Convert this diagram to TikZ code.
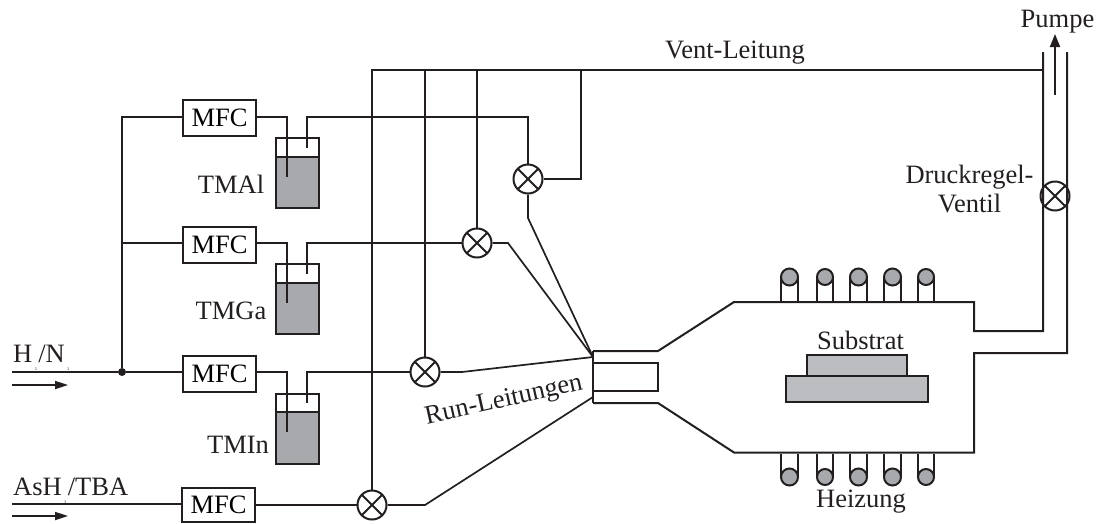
\documentclass[tikz,border=0pt]{standalone}
\usepackage{fontspec}
\setmainfont{Liberation Serif}
\usetikzlibrary{arrows.meta}
\definecolor{liquid}{HTML}{A7A9AC}
\definecolor{subst}{HTML}{BBBDC0}
\definecolor{ink}{HTML}{231F20}
\newcommand{\tinytwo}[1]{\kern2.5pt\raisebox{-8pt}{\fontsize{4}{4}\selectfont #1}\kern1.5pt}
\tikzset{
  pipe/.style={draw=ink,line width=2pt,line join=miter},
  thinpipe/.style={draw=ink,line width=1.7pt},
  flowarrow/.style={draw=ink,line width=1.7pt,-{Triangle[length=13pt,width=8pt]}},
  pumparrow/.style={draw=ink,line width=2pt,-{Triangle[length=13pt,width=10pt]}},
  mfc/.style={draw=ink,line width=2pt,fill=white,minimum width=73pt,minimum height=36pt,inner sep=0pt,font=\fontsize{26.5}{26.5}\selectfont},
  label/.style={text=ink,inner sep=0pt,font=\fontsize{26.5}{26.5}\selectfont,align=center},
  valve/.style={circle,draw=ink,line width=2pt,fill=white,minimum size=29pt,inner sep=0pt,
    path picture={\draw[ink,line width=2pt]
      (path picture bounding box.north west)--(path picture bounding box.south east)
      (path picture bounding box.north east)--(path picture bounding box.south west);}},
  bottle/.style={draw=ink,line width=2pt,minimum width=43pt,minimum height=70pt,inner sep=0pt},
  liquidbox/.style={fill=liquid,minimum width=43pt,minimum height=51pt,inner sep=0pt},
  plate/.style={draw=ink,line width=1.7pt,fill=subst,inner sep=0pt},
  coil/.style={circle,draw=ink,line width=2pt,fill=liquid,inner sep=0pt},
  dot/.style={circle,fill=ink,minimum size=8pt,inner sep=0pt}
}
\begin{document}
\begin{tikzpicture}[x=1pt,y=-1pt]
\useasboundingbox (0,0) rectangle (1098,523);

% gas inlets
\coordinate (h0) at (12,372);
\coordinate (as0) at (12,504);
\node[dot] (j) at (122,372) {};
\node[mfc] (m1) at (219.5,118) {MFC};
\node[mfc] (m2) at (219.5,245) {MFC};
\node[mfc] (m3) at (219.5,374) {MFC};
\node[mfc,minimum height=34pt] (m4) at (218.5,505) {MFC};

% bottles
\node[liquidbox] (l1) at (297.5,182.5) {};
\draw[pipe] (l1.north west) -- (l1.north east);
\node[bottle] (b1) at (297.5,173) {};
\node[liquidbox] (l2) at (297.5,308.5) {};
\draw[pipe] (l2.north west) -- (l2.north east);
\node[bottle] (b2) at (297.5,299) {};
\node[liquidbox] (l3) at (297.5,438) {};
\draw[pipe] (l3.north west) -- (l3.north east);
\node[bottle] (b3) at (297.5,428.5) {};

% valves
\node[valve] (v1) at (528,179) {};
\node[valve] (v2) at (477,243) {};
\node[valve] (v3) at (425,372) {};
\node[valve] (v4) at (372,505) {};
\node[valve] (vd) at (1055,196) {};

% reactor points
\coordinate (rt) at (593,351);
\coordinate (rb) at (593,403);
\coordinate (rm) at (593,357);
\coordinate (rl) at (593,397);
\coordinate (nt) at (658,351);
\coordinate (nb) at (658,403);
\coordinate (ct) at (734,302);
\coordinate (cb) at (734,452.5);
\coordinate (et) at (974,302);
\coordinate (eb) at (974,452.5);
\coordinate (ot) at (974,331);
\coordinate (ob) at (974,353);
\coordinate (tl) at (1043,331);
\coordinate (tr) at (1067,353);
\coordinate (tlt) at (1043,52);
\coordinate (trt) at (1067,52);

% main lines
\draw[pipe] (h0) -- (j) -- (183,372);
\draw[pipe] (as0) -- (182,504);
\draw[pipe] (j) -- (122,117) -- (183,117);
\draw[pipe] (122,243) -- (183,243);

% bottle connections
\draw[pipe] (256,117) -- (287,117) -- (287,177);
\draw[pipe] (256,243) -- (287,243) -- (287,303);
\draw[pipe] (256,372) -- (287,372) -- (287,432);
\draw[pipe] (307,148) -- (307,117) -- (528,117) -- (v1.north);
\draw[pipe] (307,274) -- (307,243) -- (v2.west);
\draw[pipe] (307,403) -- (307,372) -- (v3.west);
\draw[pipe] (m4.east) -- (v4.west);

% vent
\coordinate (vent) at (372,70);
\coordinate (ventr) at (1043,70);
\draw[pipe] (v4.north) -- (vent) -- (ventr);
\draw[pipe] (v3.north) -- (425,70);
\draw[pipe] (v2.north) -- (477,70);
\draw[pipe] (v1.east) -- (581,179) -- (581,70);

% run lines
\draw[thinpipe] (v1.south) -- (528,218) -- (rm);
\draw[thinpipe] (v2.east) -- (508,243) -- (rm);
\draw[thinpipe] (v3.east) -- (462,372) -- (rm);
\draw[thinpipe] (v4.east) -- (425,505) -- (rl);

% reactor
\draw[pipe] (rt) -- (nt) -- (ct) -- (et) -- (ot) -- (tl) -- (tlt);
\draw[pipe] (rb) -- (nb) -- (cb) -- (eb) -- (ob) -- (tr) -- (trt);
\draw[pipe] (rt) -- (rb);
\node[draw=ink,line width=2pt,minimum width=65pt,minimum height=28pt,inner sep=0pt] (inner) at (625.5,377) {};

% substrate
\node[plate,minimum width=100pt,minimum height=21pt] (sub) at (857,365.5) {};
\node[plate,minimum width=142pt,minimum height=26pt] (holder) at (857,389) {};

% heating coils
\foreach \n/\l/\r in {a/781/798,b/817/833,c/850/867,d/884/901,e/918/934}{
  \pgfmathsetmacro{\m}{(\l+\r)/2}
  \pgfmathsetmacro{\s}{\r-\l}
  \draw[pipe] (\l,302) -- (\l,277) (\r,302) -- (\r,277);
  \node[coil,minimum size=\s pt] (ct\n) at (\m,277) {};
  \draw[pipe] (\l,454) -- (\l,477) (\r,454) -- (\r,477);
  \node[coil,minimum size=\s pt] (cb\n) at (\m,477) {};
}

% pump arrow, flow arrows
\coordinate (pa) at (1055,95);
\coordinate (pb) at (1055,34);
\draw[pumparrow] (pa) -- (pb);
\coordinate (fa) at (12,385);
\coordinate (fb) at (68,385);
\draw[flowarrow] (fa) -- (fb);
\coordinate (ga) at (12,516);
\coordinate (gb) at (68,516);
\draw[flowarrow] (ga) -- (gb);

% labels
\node[label,anchor=base west] (th) at (13,362) {H\tinytwo{2}/N\tinytwo{2}};
\node[label,anchor=base west] (ta) at (13,495) {AsH\tinytwo{3}/TBA};
\node[label] (t1) at (231,184) {TMAl};
\node[label] (t2) at (231,311) {TMGa};
\node[label] (t3) at (238,445) {TMIn};
\node[label] (tv) at (735,53) {Vent-Leitung};
\node[label] (tp) at (1057.5,22) {Pumpe};
\node[label] (td) at (969.5,189) {Druckregel-\\[2pt]Ventil};
\node[label,rotate=12.5] (tr2) at (504,401) {Run-Leitungen};
\node[label] (ts) at (860.5,340) {Substrat};
\node[label] (th2) at (861,502) {Heizung};
\end{tikzpicture}
\end{document}
